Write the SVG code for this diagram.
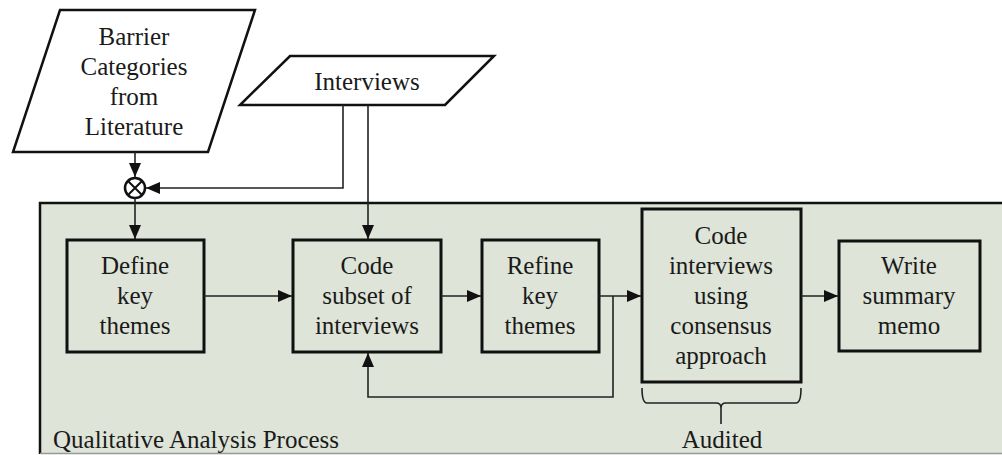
<svg xmlns="http://www.w3.org/2000/svg" width="1002" height="455" viewBox="0 0 1002 455">
<defs>
<marker id="ah" viewBox="0 0 14 12" refX="14" refY="6" markerWidth="14" markerHeight="12" markerUnits="userSpaceOnUse" orient="auto">
<path d="M0,0 L14,6 L0,12 Z" fill="#111"/>
</marker>
<style>
.box{fill:none;stroke:#111;stroke-width:3}
.io{fill:#fff;stroke:#111;stroke-width:2.5}
.ln{fill:none;stroke:#222;stroke-width:1.6}
</style>
</defs>
<rect width="1002" height="455" fill="#fff"/>
<g font-family="Liberation Serif, Times New Roman, Times, DejaVu Serif, serif" font-size="25" fill="#1a1a1a" text-anchor="middle">
<g id="container">
<rect x="40" y="203" width="962" height="250" fill="#dee4d7"/>
<path d="M40,454 L40,203 L1002,203" fill="none" stroke="#111" stroke-width="2.5"/>
<line x1="40" y1="453.5" x2="1002" y2="453.5" stroke="#999" stroke-width="1.5"/>
<text x="53" y="448" text-anchor="start">Qualitative Analysis Process</text>
</g>
<g id="barrier">
<path class="io" d="M60,10 L255,10 L208,152 L13,152 Z"/>
<text x="134" y="45">Barrier</text>
<text x="134" y="75">Categories</text>
<text x="134" y="105">from</text>
<text x="134" y="135">Literature</text>
</g>
<g id="interviews">
<path class="io" d="M290,56 L494,56 L445,105 L240,105 Z"/>
<text x="367" y="90">Interviews</text>
</g>
<g id="merge">
<circle cx="135" cy="188" r="10" fill="#fff" stroke="#111" stroke-width="2.5"/>
<path d="M128,181 L142,195 M142,181 L128,195" stroke="#111" stroke-width="2"/>
</g>
<g id="define">
<rect class="box" x="67" y="240" width="137" height="112"/>
<text x="135" y="274">Define</text>
<text x="135" y="304">key</text>
<text x="135" y="334">themes</text>
</g>
<g id="codesubset">
<rect class="box" x="293" y="240" width="148" height="112"/>
<text x="367" y="274">Code</text>
<text x="367" y="304">subset of</text>
<text x="367" y="334">interviews</text>
</g>
<g id="refine">
<rect class="box" x="482" y="240" width="117" height="112"/>
<text x="540" y="274">Refine</text>
<text x="540" y="304">key</text>
<text x="540" y="334">themes</text>
</g>
<g id="codeinterviews">
<rect class="box" x="642" y="209" width="159" height="173" stroke-width="3.5"/>
<text x="721" y="244">Code</text>
<text x="721" y="274">interviews</text>
<text x="721" y="304">using</text>
<text x="721" y="334">consensus</text>
<text x="721" y="364">approach</text>
</g>
<g id="write">
<rect class="box" x="839" y="241" width="141" height="110"/>
<text x="909" y="274">Write</text>
<text x="909" y="304">summary</text>
<text x="909" y="334">memo</text>
</g>
<g id="audited">
<path d="M642,388 Q642,403 647,403 L716,403 Q721,403 721,408 L721,424 M721,408 Q721,403 726,403 L796,403 Q801,403 801,388" fill="none" stroke="#222" stroke-width="1.6"/>
<text x="722" y="448">Audited</text>
</g>
</g>
<g id="connectors">
<path class="ln" d="M135,152 L135,177" marker-end="url(#ah)"/>
<path class="ln" d="M343,105 L343,188 L146,188" marker-end="url(#ah)"/>
<path class="ln" d="M135,198 L135,239" marker-end="url(#ah)"/>
<path class="ln" d="M368,105 L368,239" marker-end="url(#ah)"/>
<path class="ln" d="M204,296 L292,296" marker-end="url(#ah)"/>
<path class="ln" d="M441,296 L481,296" marker-end="url(#ah)"/>
<path class="ln" d="M599,296 L641,296" marker-end="url(#ah)"/>
<path class="ln" d="M801,296 L838,296" marker-end="url(#ah)"/>
<path class="ln" d="M613,296 L613,397 L368,397 L368,353" marker-end="url(#ah)"/>
</g>
</svg>
